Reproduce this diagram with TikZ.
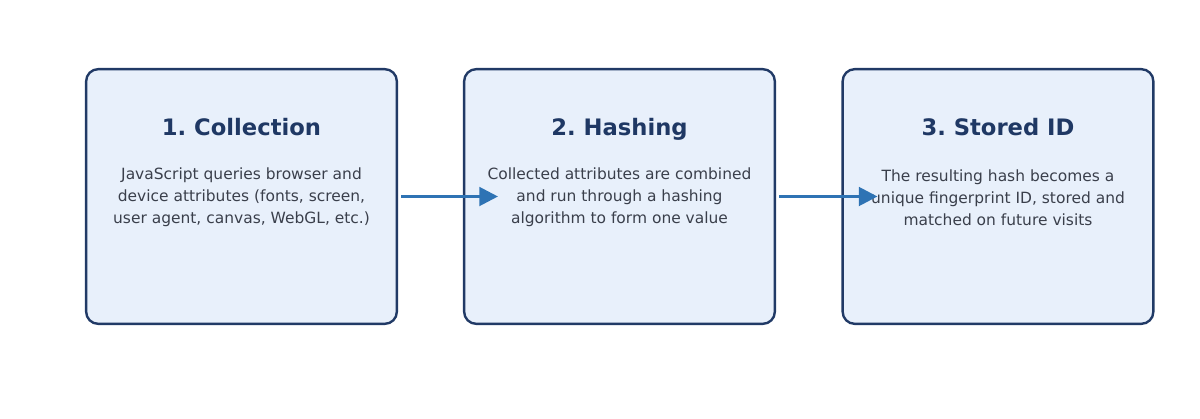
\documentclass[tikz,border=0pt]{standalone}
\usepackage{fontspec}
\setmainfont{DejaVu Sans}
\frenchspacing
\usetikzlibrary{calc}
\usetikzlibrary{arrows.meta}

\definecolor{boxfill}{HTML}{E8F0FB}
\definecolor{boxline}{HTML}{213A66}
\definecolor{titlecol}{HTML}{1F3864}
\definecolor{bodycol}{HTML}{3A3F4B}
\definecolor{arrowcol}{HTML}{2E73B4}

\tikzset{
  stage/.style={draw=boxline,fill=boxfill,line width=1.8pt,rounded corners=9pt,
    minimum width=233pt,minimum height=191pt,inner sep=0pt},
  stagetitle/.style={text=titlecol,anchor=base,font=\fontsize{17}{20}\selectfont\bfseries},
  stagetext/.style={text=bodycol,align=center,font=\fontsize{11.6}{16.4}\selectfont},
  flow/.style={draw=arrowcol,line width=2.25pt,-{Triangle[length=14pt,width=14pt]}}
}

\begin{document}
\begin{tikzpicture} [x=0.75pt,y=-0.75pt]

\useasboundingbox (0,0) rectangle (1200,418);

\node[stage] (collect) at (241.5,196.5) {};
\node[stage] (hash) at (619.5,196.5) {};
\node[stage] (store) at (998,196.5) {};

\node[stagetitle] (collectT) at ($(collect)+(0,-61)$) {1. Collection};
\node[stagetitle] (hashT) at ($(hash)+(0,-61)$) {2. Hashing};
\node[stagetitle] (storeT) at ($(store)+(0,-61)$) {3. Stored ID};

\node[stagetext] (collectB) at ($(collect)+(0,1)$) {JavaScript queries browser and\\device attributes (fonts, screen,\\user agent, canvas, WebGL, etc.)};
\node[stagetext] (hashB) at ($(hash)+(0,1)$) {Collected attributes are combined\\and run through a hashing\\algorithm to form one value};
\node[stagetext] (storeB) at ($(store)+(0,1)$) {The resulting hash becomes a\\unique fingerprint ID, stored and\\matched on future visits};

\coordinate (tip1) at ($(hash.west)+(35,0)$);
\coordinate (tip2) at ($(store.west)+(36,0)$);

\draw[flow] ($(collect.east)+(3,0)$) -- (tip1);
\draw[flow] ($(hash.east)+(3,0)$) -- (tip2);

\end{tikzpicture}
\end{document}
